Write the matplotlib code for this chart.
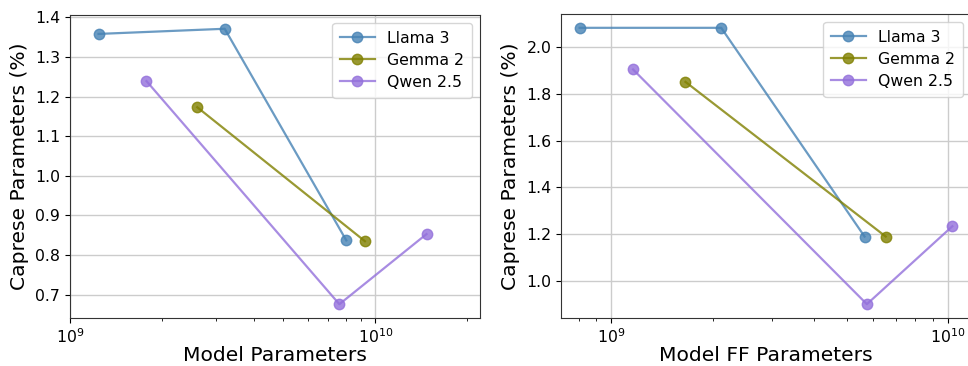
import numpy as np
import matplotlib
matplotlib.use("Agg")
import matplotlib.pyplot as plt

MODELS = ["Llama 3", "Gemma 2", "Qwen 2.5"]
COLORS = ["steelblue", "olive", "mediumpurple"]

# total params
llama_params = [1.24e9, 3.21e9, 8.03e9]
gemma_params = [2.61e9, 9.24e9]
qwen_params = [1.78e9, 7.62e9, 1.47e10]

llama_pct = [1.358, 1.371, 0.837]
gemma_pct = [1.173, 0.835]
qwen_pct = [1.239, 0.676, 0.853]

# feed-forward params
llama_ff = [8.05e8, 2.12e9, 5.65e9]
gemma_ff = [1.66e9, 6.53e9]
qwen_ff = [1.16e9, 5.74e9, 1.03e10]

llama_ff_pct = [2.082, 2.082, 1.190]
gemma_ff_pct = [1.851, 1.190]
qwen_ff_pct = [1.904, 0.901, 1.234]

TICK_FS = 11.3
LABEL_FS = 14.6

fig = plt.figure(figsize=(9.68, 3.66), dpi=100)
ax1 = fig.add_axes([70 / 968, 48 / 366, 410 / 968, 303 / 366])
ax2 = fig.add_axes([561 / 968, 48 / 366, 410 / 968, 304 / 366])

panels = [
    (ax1, [llama_params, gemma_params, qwen_params], [llama_pct, gemma_pct, qwen_pct], "Model Parameters"),
    (ax2, [llama_ff, gemma_ff, qwen_ff], [llama_ff_pct, gemma_ff_pct, qwen_ff_pct], "Model FF Parameters"),
]

for ax, xs, ys, xlabel in panels:
    for name, color, x, y in zip(MODELS, COLORS, xs, ys):
        ax.plot(x, y, "-o", color=color, alpha=0.8, lw=1.6, ms=7.5, label=name)
    ax.set_xscale("log")
    ax.grid(True, which="major", color="#cccccc", lw=1)
    ax.set_axisbelow(True)
    ax.set_xlabel(xlabel, fontsize=LABEL_FS, labelpad=0)
    ax.set_ylabel("Caprese Parameters (%)", fontsize=LABEL_FS, labelpad=4)
    ax.tick_params(labelsize=TICK_FS)
    for s in ax.spines.values():
        s.set_color("#333333")
    ax.legend(loc="upper right", fontsize=TICK_FS, handlelength=2.2, borderpad=0.5, labelspacing=0.45)

ax1.set_xlim(1e9, 2.2e10)

fig.savefig("out.png", dpi=100)
